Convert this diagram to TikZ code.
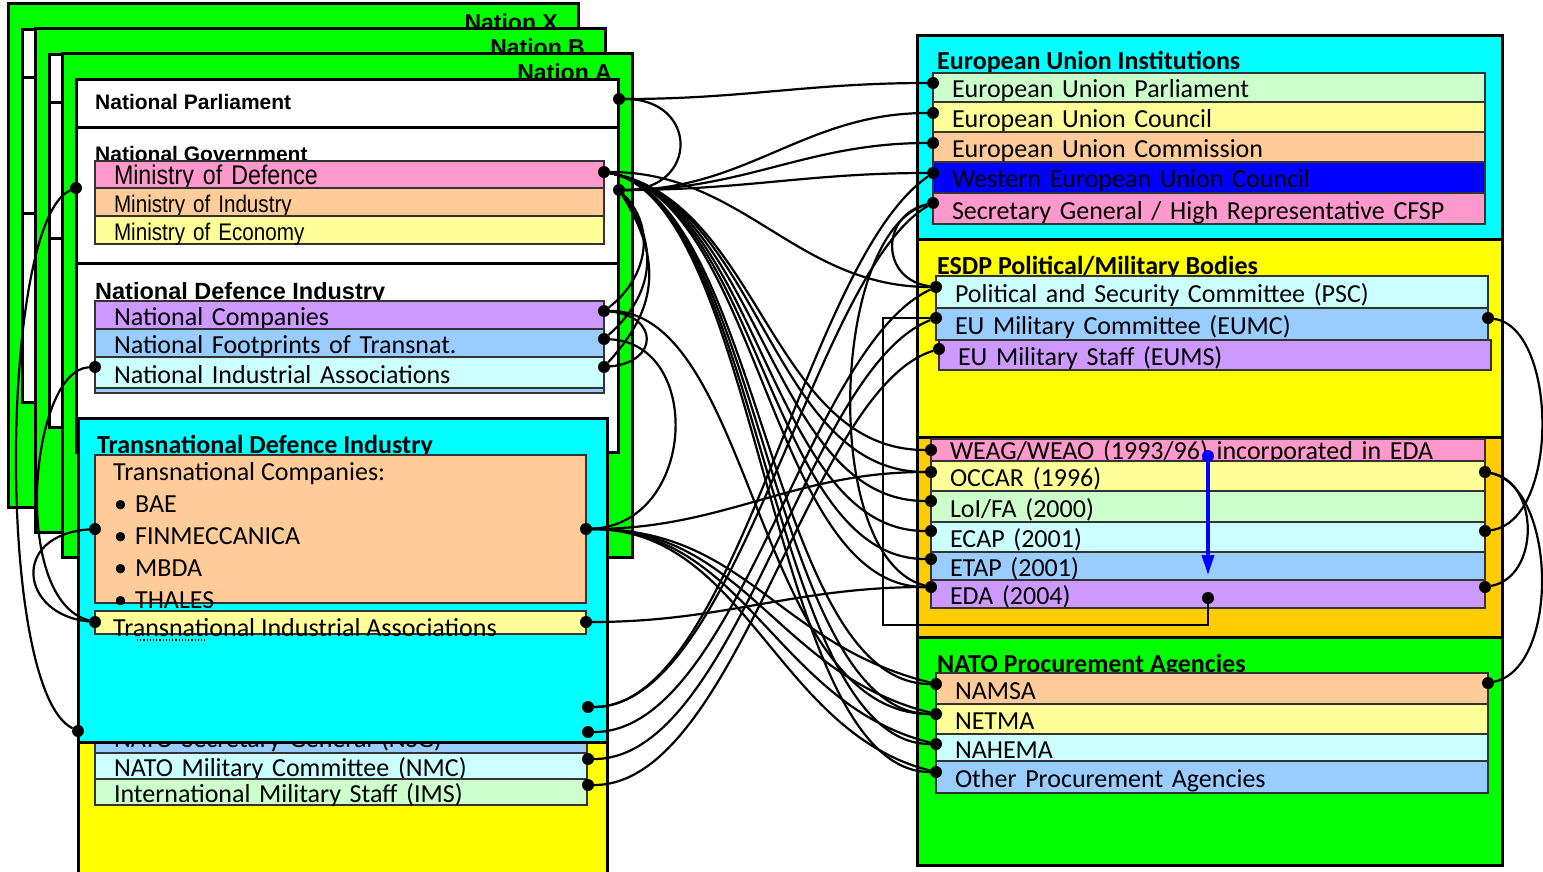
\documentclass[tikz,border=0pt]{standalone}
\usepackage{fontspec}
\setmainfont{Carlito}
\newfontfamily\arialfont{Liberation Sans}
\newfontfamily\narrowfont[FakeStretch=0.86]{Liberation Sans}
\usetikzlibrary{arrows.meta}

\definecolor{natgreen}{HTML}{00FF00}
\definecolor{boxcyan}{HTML}{00FFFF}
\definecolor{boxyellow}{HTML}{FFFF00}
\definecolor{boxorange}{HTML}{FFCC00}
\definecolor{barpink}{HTML}{FF99CC}
\definecolor{barpeach}{HTML}{FFCC99}
\definecolor{barlemon}{HTML}{FFFF99}
\definecolor{barmint}{HTML}{CCFFCC}
\definecolor{barice}{HTML}{CCFFFF}
\definecolor{barsky}{HTML}{99CCFF}
\definecolor{barlilac}{HTML}{CC99FF}
\definecolor{barblue}{HTML}{0000FF}

\tikzset{
  orgframe/.style={draw=black, line width=3pt, anchor=north west, inner sep=0pt, outer sep=0pt},
  natsection/.style={orgframe, fill=white, minimum width=542pt},
  orgbar/.style={draw=black!80, line width=1.2pt, anchor=north west, inner xsep=19pt, inner ysep=0pt,
    outer sep=0pt, text height=22pt, text depth=1pt, align=left, font=\fontsize{26}{30}\selectfont},
  lbar/.style={orgbar, minimum width=509pt, text width=471pt},
  nbar/.style={orgbar, minimum width=492pt, text width=454pt},
  rbar/.style={orgbar, minimum width=552pt, text width=514pt},
  obar/.style={orgbar, minimum width=554pt, text width=516pt},
  ministry/.style={font=\narrowfont\fontsize{#1}{30}\selectfont},
  boxtitle/.style={anchor=base west, inner sep=0pt, font=\bfseries\fontsize{26}{30}\selectfont},
  arialtitle/.style={anchor=base west, inner sep=0pt, font=\arialfont\bfseries\fontsize{21}{25}\selectfont},
  nationlbl/.style={anchor=base east, inner sep=0pt, font=\arialfont\bfseries\fontsize{23}{27}\selectfont},
  itemtext/.style={anchor=base west, inner sep=0pt, font=\fontsize{26}{30}\selectfont},
  joint/.style={circle, fill=black, inner sep=0pt, minimum size=12pt},
  tie/.style={line width=2.2pt},
}

\begin{document}
\begin{tikzpicture}[x=1pt, y=-1pt]
  \useasboundingbox (0,0) rectangle (1543,872);
  % the three nations, stacked
  \node[orgframe, fill=natgreen, minimum width=570pt, minimum height=503pt] (NationX) at (8,4) {};
  \node[nationlbl] (lblNationX) at (558,31) {Nation X};
  \node[natsection, minimum height=48pt] (ParlX) at (22,30) {};
  \node[natsection, minimum height=135pt] (GovX) at (22,78) {};
  \node[natsection, minimum height=189pt] (IndX) at (22,213) {};
  %
  \node[orgframe, fill=natgreen, minimum width=570pt, minimum height=503pt] (NationB) at (35,29) {};
  \node[nationlbl] (lblNationB) at (585,56) {Nation B};
  \node[natsection, minimum height=48pt] (ParlB) at (49,55) {};
  \node[natsection, minimum height=135pt] (GovB) at (49,103) {};
  \node[natsection, minimum height=189pt] (IndB) at (49,238) {};
  %
  \node[orgframe, fill=natgreen, minimum width=570pt, minimum height=503pt] (NationA) at (62,54) {};
  \node[nationlbl] (lblNationA) at (612,81) {Nation A};
  \node[natsection, minimum height=48pt] (ParlA) at (76,80) {};
  \node[natsection, minimum height=135pt] (GovA) at (76,128) {};
  \node[natsection, minimum height=189pt] (IndA) at (76,263) {};
  %
  \node[arialtitle] (tParl) at (95,110) {National Parliament};
  \node[arialtitle] (tGov) at (95,162) {National Government};
  \node[lbar, ministry=27, fill=barpink, minimum height=27pt] (MoD) at (95,161) {Ministry of Defence};
  \node[lbar, ministry=24, fill=barpeach, minimum height=28pt] (MoI) at (95,188) {Ministry of Industry};
  \node[lbar, ministry=24, fill=barlemon, minimum height=28pt] (MoE) at (95,216) {Ministry of Economy};
  \node[arialtitle, font=\arialfont\bfseries\fontsize{23.5}{27}\selectfont] (tInd) at (95,299) {National Defence Industry};
  \node[lbar, fill=barlilac, minimum height=28pt] (NatComp) at (95,301) {National Companies};
  \node[lbar, fill=barsky, minimum height=28pt] (NatFoot) at (95,329) {National Footprints of Transnat.};
  \node[lbar, fill=barsky, minimum height=32pt] (NatAssocBack) at (95,361) {};
  \node[lbar, fill=barice, minimum height=31pt] (NatAssoc) at (95,357) {National Industrial Associations};
  % NATO bodies, mostly hidden
  \node[orgframe, fill=boxyellow, minimum width=529pt, minimum height=200pt] (NatoHQ) at (78,700) {};
  \node[nbar, fill=barsky, minimum height=33pt] (NSG) at (95,720) {NATO Secretary General (NSG)};
  \node[nbar, fill=barice, minimum height=26pt] (NMC) at (95,753) {NATO Military Committee (NMC)};
  \node[nbar, fill=barmint, minimum height=26pt] (IMS) at (95,779) {International Military Staff (IMS)};
  % transnational industry
  \node[orgframe, fill=boxcyan, minimum width=529pt, minimum height=324pt] (TransInd) at (78,418) {};
  \node[boxtitle] (tTransInd) at (97,453) {Transnational Defence Industry};
  \node[orgbar, fill=barpeach, minimum width=491pt, minimum height=148pt] (TransComp) at (95,455) {};
  \node[itemtext] (tTransComp) at (113,480) {Transnational Companies:};
  \node[itemtext] (tBAE) at (114,512) {\textbullet\hspace{8pt}BAE};
  \node[itemtext] (tFIN) at (114,544) {\textbullet\hspace{8pt}FINMECCANICA};
  \node[itemtext] (tMBDA) at (114,576) {\textbullet\hspace{8pt}MBDA};
  \node[itemtext] (tTHALES) at (114,608) {\textbullet\hspace{8pt}THALES};
  \node[orgbar, fill=barlemon, minimum width=491pt, minimum height=23pt] (TransAssoc) at (95,611) {};
  \node[itemtext] (tTransAssoc) at (113,636) {Transnational Industrial Associations};
  \draw[dotted, line width=1.2pt] (137,640) -- (205,640);
  % EU side
  \node[orgframe, fill=boxcyan, minimum width=585pt, minimum height=203pt] (EUInst) at (917,36) {};
  \node[boxtitle] (tEUInst) at (937,70) {European Union Institutions};
  \node[rbar, fill=barmint, minimum height=29pt] (EUParl) at (933,73) {European Union Parliament};
  \node[rbar, fill=barlemon, minimum height=30pt] (EUCouncil) at (933,102) {European Union Council};
  \node[rbar, fill=barpeach, minimum height=30pt] (EUComm) at (933,132) {European Union Commission};
  \node[rbar, fill=barblue, minimum height=31pt] (WEU) at (933,162) {Western European Union Council};
  \node[rbar, fill=barpink, minimum height=31pt] (SGHR) at (933,193) {Secretary General / High Representative CFSP};
  %
  \node[orgframe, fill=boxyellow, minimum width=585pt, minimum height=198pt] (ESDP) at (917,239) {};
  \node[boxtitle] (tESDP) at (937,274) {ESDP Political/Military Bodies};
  \node[rbar, fill=barice, minimum height=32pt] (PSC) at (936,276) {Political and Security Committee (PSC)};
  \node[rbar, fill=barsky, minimum height=32pt] (EUMC) at (936,308) {EU Military Committee (EUMC)};
  \node[rbar, fill=barlilac, minimum height=30pt] (EUMS) at (939,340) {EU Military Staff (EUMS)};
  %
  \node[orgframe, fill=boxorange, minimum width=585pt, minimum height=200pt] (Agencies) at (917,437) {};
  \node[obar, fill=barpink, minimum height=22pt, text height=20pt] (WEAG) at (931,439) {WEAG/WEAO (1993/96) incorporated in EDA};
  \node[obar, fill=barlemon, minimum height=30pt] (OCCAR) at (931,461) {OCCAR (1996)};
  \node[obar, fill=barmint, minimum height=31pt] (LoIFA) at (931,491) {LoI/FA (2000)};
  \node[obar, fill=barice, minimum height=30pt] (ECAP) at (931,522) {ECAP (2001)};
  \node[obar, fill=barsky, minimum height=28pt] (ETAP) at (931,552) {ETAP (2001)};
  \node[obar, fill=barlilac, minimum height=28pt] (EDA) at (931,580) {EDA (2004)};
  %
  \node[orgframe, fill=natgreen, minimum width=585pt, minimum height=228pt] (NatoProc) at (917,637) {};
  \node[boxtitle] (tNatoProc) at (937,672) {NATO Procurement Agencies};
  \node[rbar, fill=barpeach, minimum height=31pt] (NAMSA) at (936,673) {NAMSA};
  \node[rbar, fill=barlemon, minimum height=30pt] (NETMA) at (936,704) {NETMA};
  \node[rbar, fill=barice, minimum height=27pt] (NAHEMA) at (936,734) {NAHEMA};
  \node[rbar, fill=barsky, minimum height=32pt] (OtherPA) at (936,761) {Other Procurement Agencies};
  % joints
  \node[joint] (dNP) at (619,99) {};
  \node[joint] (dMoD) at (604,172) {};
  \node[joint] (dGov) at (619,190) {};
  \node[joint] (dMoDl) at (76,188) {};
  \node[joint] (dNC) at (604,311) {};
  \node[joint] (dNF) at (604,339) {};
  \node[joint] (dNIA) at (604,367) {};
  \node[joint] (dNIAl) at (95,367) {};
  \node[joint] (dTC) at (586,529) {};
  \node[joint] (dTCl) at (95,529) {};
  \node[joint] (dTIA) at (586,622) {};
  \node[joint] (dTIAl) at (95,622) {};
  \node[joint] (dTDl) at (78,731) {};
  \node[joint] (dTDa) at (588,707) {};
  \node[joint] (dTDb) at (588,732) {};
  \node[joint] (dNMC) at (588,759) {};
  \node[joint] (dIMS) at (588,785) {};
  \node[joint] (dEUParl) at (933,83) {};
  \node[joint] (dEUCo) at (933,113) {};
  \node[joint] (dEUCm) at (933,143) {};
  \node[joint] (dWEU) at (933,173) {};
  \node[joint] (dSGHR) at (933,203) {};
  \node[joint] (dPSC) at (936,287) {};
  \node[joint] (dEUMC) at (936,318) {};
  \node[joint] (dEUMS) at (939,349) {};
  \node[joint] (dEUMCr) at (1488,318) {};
  \node[joint] (dWEAG) at (931,450) {};
  \node[joint] (dOCCAR) at (931,472) {};
  \node[joint] (dLoI) at (931,501) {};
  \node[joint] (dECAP) at (931,531) {};
  \node[joint] (dETAP) at (931,559) {};
  \node[joint] (dEDA) at (931,587) {};
  \node[joint] (dOCCARr) at (1485,472) {};
  \node[joint] (dECAPr) at (1485,531) {};
  \node[joint] (dEDAr) at (1485,587) {};
  \node[joint] (dEDAm) at (1208,598) {};
  \node[joint, fill=barblue] (dWEAGm) at (1208,456) {};
  \node[joint] (dNAMSA) at (936,684) {};
  \node[joint] (dNETMA) at (936,714) {};
  \node[joint] (dNAHEMA) at (936,744) {};
  \node[joint] (dOther) at (936,772) {};
  \node[joint] (dNAMSAr) at (1488,683) {};
  \coordinate (cEDAbend) at (883,625);
  \coordinate (cEDAtip) at (1208,575);
  % parliament and government
  \draw[tie] (dNP) to[out=0,in=180] (dEUParl);
  \draw[tie] (dNP) .. controls +(80,0) and +(80,0) .. (dGov);
  \draw[tie] (dGov) to[out=0,in=180] (dEUCo);
  \draw[tie] (dGov) to[out=0,in=180] (dEUCm);
  \draw[tie] (dGov) to[out=0,in=180] (dWEU);
  \draw[tie] (dMoD) to[out=0,in=180] (dPSC);
  \draw[tie] (dGov) .. controls +(40,40) and +(40,-30) .. (dNC);
  \draw[tie] (dGov) .. controls +(45,60) and +(45,-40) .. (dNF);
  \draw[tie] (dGov) .. controls +(50,80) and +(45,-50) .. (dNIA);
  \draw[tie] (dNC) .. controls +(55,5) and +(55,-5) .. (dNIA);
  \draw[tie] (dNF) .. controls +(100,5) and +(110,-5) .. (dTC);
  % ministry of defence to the agencies
  \draw[tie] (dMoD) .. controls +(156,28) and +(-161,0) .. (dWEAG);
  \draw[tie] (dMoD) .. controls +(156,28) and +(-161,0) .. (dOCCAR);
  \draw[tie] (dMoD) .. controls +(156,28) and +(-161,0) .. (dLoI);
  \draw[tie] (dMoD) .. controls +(156,28) and +(-161,0) .. (dECAP);
  \draw[tie] (dMoD) .. controls +(156,28) and +(-161,0) .. (dETAP);
  \draw[tie] (dMoD) .. controls +(156,28) and +(-161,0) .. (dEDA);
  \draw[tie] (dMoD) .. controls +(156,28) and +(-166,0) .. (dNAMSA);
  \draw[tie] (dMoD) .. controls +(156,28) and +(-166,0) .. (dNETMA);
  \draw[tie] (dMoD) .. controls +(156,28) and +(-166,0) .. (dNAHEMA);
  \draw[tie] (dMoD) .. controls +(156,28) and +(-166,0) .. (dOther);
  \draw[tie] (dNC) .. controls +(150,0) and +(-180,0) .. (dNETMA);
  % transnational industry
  \draw[tie] (dTC) to[out=0,in=180] (dOCCAR);
  \draw[tie] (dTC) .. controls +(160,0) and +(-160,-40) .. (dNAMSA);
  \draw[tie] (dTC) .. controls +(160,0) and +(-160,-40) .. (dNETMA);
  \draw[tie] (dTC) .. controls +(160,0) and +(-160,-40) .. (dNAHEMA);
  \draw[tie] (dTC) .. controls +(160,0) and +(-160,-40) .. (dOther);
  \draw[tie] (dTIA) to[out=0,in=180] (dEDA);
  % NATO bodies to the EU side
  \draw[tie] (dTDa) .. controls +(150,0) and +(-130,90) .. (dWEU);
  \draw[tie] (dTDa) .. controls +(150,0) and +(-120,70) .. (dSGHR);
  \draw[tie] (dTDb) .. controls +(150,0) and +(-130,60) .. (dPSC);
  \draw[tie] (dNMC) .. controls +(150,0) and +(-130,50) .. (dEUMC);
  \draw[tie] (dIMS) .. controls +(150,0) and +(-130,40) .. (dEUMS);
  % EU side among itself
  \draw[tie] (dSGHR) .. controls (880,215) and (880,280) .. (dPSC);
  \draw[tie] (dSGHR) .. controls (830,230) and (820,560) .. (dEDA);
  \draw[tie] (dEUMCr) .. controls +(70,10) and +(75,-10) .. (dECAPr);
  \draw[tie] (dOCCARr) .. controls +(55,10) and +(55,-10) .. (dEDAr);
  \draw[tie] (dOCCARr) .. controls +(72,15) and +(72,-15) .. (dNAMSAr);
  \draw[line width=2pt] (dEDAm) |- (cEDAbend) |- (dEUMC);
  \draw[barblue, line width=3.5pt, -{Triangle[length=20pt, width=12pt]}] (dWEAGm) -- (cEDAtip);
  % left side
  \draw[tie] (dMoDl) .. controls (0,220) and (-5,690) .. (dTDl);
  \draw[tie] (dNIAl) .. controls (30,370) and (10,600) .. (dTIAl);
  \draw[tie] (dTCl) .. controls (10,535) and (20,615) .. (dTIAl);
\end{tikzpicture}
\end{document}
